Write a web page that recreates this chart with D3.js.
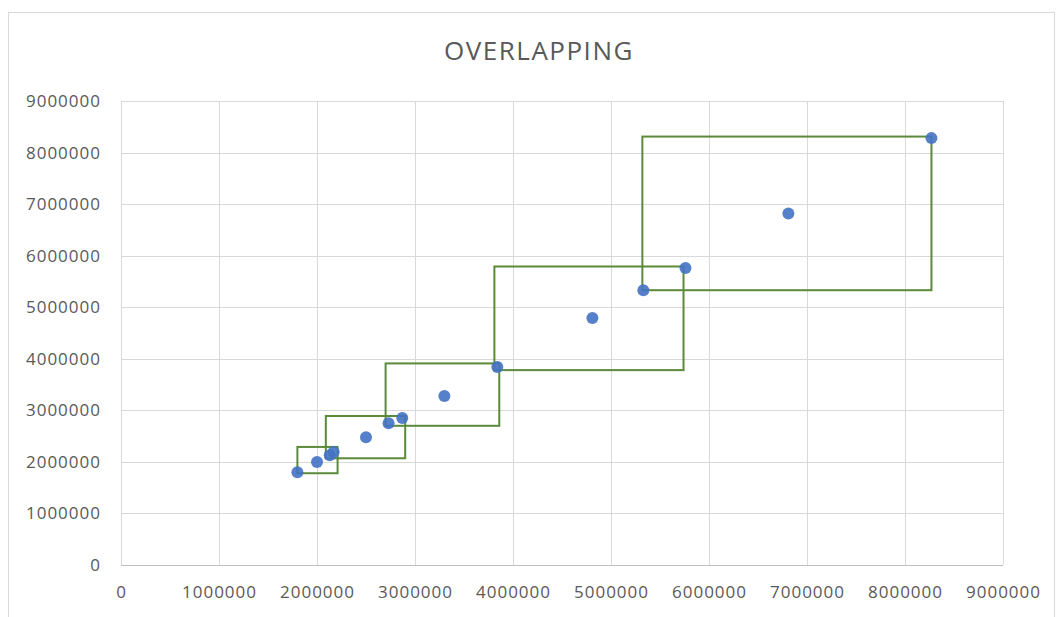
<!DOCTYPE html>
<html>
<head>
<meta charset="utf-8">
<script src="https://cdn.jsdelivr.net/npm/d3@7"></script>
<style>
  body { margin: 0; background: #fff; }
  svg { display: block; }
</style>
</head>
<body>
<svg id="chart" width="1059" height="617"></svg>
<script>
// ---- data ----
const title = "OVERLAPPING";
const pointX = [1800000, 2000000, 2130000, 2170000, 2500000, 2730000, 2870000, 3300000, 3840000, 4810000, 5330000, 5760000, 6810000, 8270000];
const pointY = [1800000, 2000000, 2130000, 2190000, 2480000, 2750000, 2850000, 3280000, 3840000, 4790000, 5330000, 5760000, 6820000, 8280000];
const rectX0 = [1800000, 2090000, 2700000, 3810000, 5320000];
const rectX1 = [2210000, 2900000, 3860000, 5740000, 8270000];
const rectY0 = [1780000, 2070000, 2700000, 3780000, 5330000];
const rectY1 = [2290000, 2890000, 3910000, 5790000, 8310000];
const xTicks = [0, 1000000, 2000000, 3000000, 4000000, 5000000, 6000000, 7000000, 8000000, 9000000];
const yTicks = [0, 1000000, 2000000, 3000000, 4000000, 5000000, 6000000, 7000000, 8000000, 9000000];

// ---- layout ----
const svg = d3.select("#chart");
const pLeft = 121, pRight = 1003, pTop = 101, pBottom = 565;
const x = d3.scaleLinear().domain([0, 9000000]).range([pLeft, pRight]);
const y = d3.scaleLinear().domain([0, 9000000]).range([pBottom, pTop]);
const font = "'Open Sans', sans-serif";
const textColor = "#595959";

// chart border
svg.append("rect").attr("x", 8.5).attr("y", 12.5).attr("width", 1046).attr("height", 620)
  .attr("fill", "#fff").attr("stroke", "#d9d9d9").attr("stroke-width", 1);

// title
svg.append("text").attr("x", 539).attr("y", 60).attr("text-anchor", "middle")
  .attr("font-family", font).attr("font-size", 26).attr("letter-spacing", 1.5)
  .attr("fill", textColor).text(title);

// gridlines
svg.append("g").selectAll("line").data(xTicks).join("line")
  .attr("x1", d => Math.round(x(d)) + 0.5).attr("x2", d => Math.round(x(d)) + 0.5)
  .attr("y1", pTop).attr("y2", pBottom).attr("stroke", "#d9d9d9").attr("stroke-width", 1);
svg.append("g").selectAll("line").data(yTicks).join("line")
  .attr("x1", pLeft).attr("x2", pRight)
  .attr("y1", d => Math.round(y(d)) + 0.5).attr("y2", d => Math.round(y(d)) + 0.5)
  .attr("stroke", d => d === 0 ? "#bfbfbf" : "#d9d9d9").attr("stroke-width", 1);

// axes labels
const xAxis = d3.axisBottom(x).tickValues(xTicks).tickFormat(d3.format("d")).tickSize(0).tickPadding(0);
const gx = svg.append("g").attr("transform", `translate(0,${pBottom + 21})`).call(xAxis);
gx.select(".domain").remove();
gx.selectAll("text").attr("font-family", font).attr("font-size", 17).attr("letter-spacing", 1)
  .attr("fill", textColor).attr("dy", "0.71em");

const yAxis = d3.axisLeft(y).tickValues(yTicks).tickFormat(d3.format("d")).tickSize(0).tickPadding(0);
const gy = svg.append("g").attr("transform", `translate(${pLeft - 20},0)`).call(yAxis);
gy.select(".domain").remove();
gy.selectAll("text").attr("font-family", font).attr("font-size", 17).attr("letter-spacing", 1)
  .attr("fill", textColor);

// rectangles
svg.append("g").selectAll("rect").data(rectX0.map((d, i) => i)).join("rect")
  .attr("x", i => x(rectX0[i])).attr("y", i => y(rectY1[i]))
  .attr("width", i => x(rectX1[i]) - x(rectX0[i]))
  .attr("height", i => y(rectY0[i]) - y(rectY1[i]))
  .attr("fill", "none").attr("stroke", "#5a8a3a").attr("stroke-width", 2);

// points
svg.append("g").selectAll("circle").data(pointX.map((d, i) => i)).join("circle")
  .attr("cx", i => x(pointX[i])).attr("cy", i => y(pointY[i])).attr("r", 6)
  .attr("fill", "#4472c4").attr("fill-opacity", 0.9);
</script>
</body>
</html>
